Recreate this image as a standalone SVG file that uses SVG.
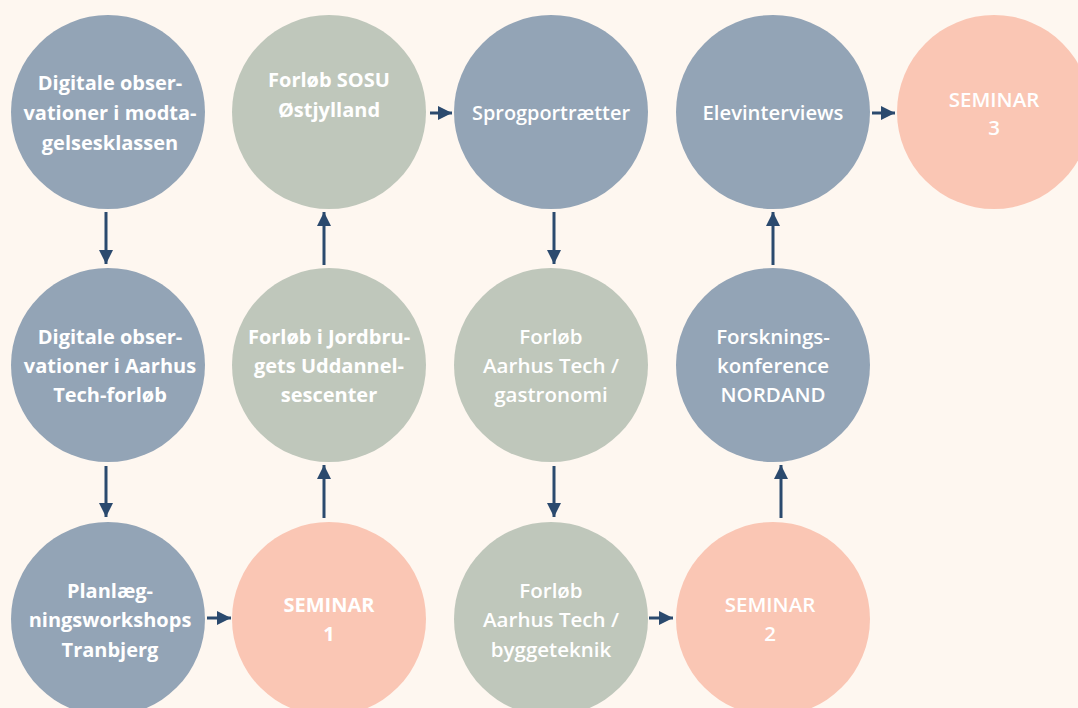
<svg xmlns="http://www.w3.org/2000/svg" width="1078" height="708" viewBox="0 0 1078 708">
<defs>
<style>
.blue{fill:#93a4b6}
.sage{fill:#bfc7bb}
.salmon{fill:#fac6b4}
.t{font-family:"Open Sans","Noto Sans",sans-serif;font-weight:700;font-size:20px;fill:#ffffff;text-anchor:middle}
.tc{font-family:"Open Sans","Noto Sans",sans-serif;font-weight:600;font-size:20.5px;fill:#ffffff;text-anchor:middle}
.conn line{stroke:#2b4a6e;stroke-width:3}
</style>
<marker id="ah" viewBox="0 0 10 10" refX="10" refY="5" markerWidth="4.8" markerHeight="4.8" markerUnits="strokeWidth" orient="auto">
<path d="M0,0 L10,5 L0,10 Z" fill="#2b4a6e"/>
</marker>
</defs>
<rect width="1078" height="708" fill="#fef7f0"/>

<g id="n1"><circle class="blue" cx="108" cy="112" r="97"/>
<text class="t" x="110" y="90">Digitale obser-</text>
<text class="t" x="110" y="120">vationer i modta-</text>
<text class="t" x="110" y="150">gelsesklassen</text></g>

<g id="n2"><circle class="blue" cx="108" cy="365" r="97"/>
<text class="t" x="110" y="344">Digitale obser-</text>
<text class="t" x="110" y="373">vationer i Aarhus</text>
<text class="t" x="110" y="402">Tech-forløb</text></g>

<g id="n3"><circle class="blue" cx="108" cy="619" r="97"/>
<text class="t" x="110" y="598">Planlæg-</text>
<text class="t" x="110" y="627">ningsworkshops</text>
<text class="t" x="110" y="657">Tranbjerg</text></g>

<g id="s1"><circle class="salmon" cx="329" cy="619" r="97"/>
<text class="t" x="329" y="612">SEMINAR</text>
<text class="t" x="329" y="641">1</text></g>

<g id="n4"><circle class="sage" cx="329" cy="365" r="97"/>
<text class="t" x="329" y="344">Forløb i Jordbru-</text>
<text class="t" x="329" y="373">gets Uddannel-</text>
<text class="t" x="329" y="402">sescenter</text></g>

<g id="n5"><circle class="sage" cx="329" cy="112" r="97"/>
<text class="t" x="329" y="87">Forløb SOSU</text>
<text class="t" x="329" y="117">Østjylland</text></g>

<g id="n6"><circle class="blue" cx="551" cy="112" r="97"/>
<text class="tc" x="551" y="120" textLength="158" lengthAdjust="spacingAndGlyphs">Sprogportrætter</text></g>

<g id="n7"><circle class="sage" cx="551" cy="365" r="97"/>
<text class="tc" x="551" y="344">Forløb</text>
<text class="tc" x="551" y="373" textLength="136" lengthAdjust="spacingAndGlyphs">Aarhus Tech /</text>
<text class="tc" x="551" y="402">gastronomi</text></g>

<g id="n8"><circle class="sage" cx="551" cy="619" r="97"/>
<text class="tc" x="551" y="598">Forløb</text>
<text class="tc" x="551" y="627" textLength="136" lengthAdjust="spacingAndGlyphs">Aarhus Tech /</text>
<text class="tc" x="551" y="657">byggeteknik</text></g>

<g id="s2"><circle class="salmon" cx="773" cy="619" r="97"/>
<text class="tc" x="770" y="612">SEMINAR</text>
<text class="tc" x="770" y="641">2</text></g>

<g id="n9"><circle class="blue" cx="773" cy="365" r="97"/>
<text class="tc" x="773" y="344">Forsknings-</text>
<text class="tc" x="773" y="373">konference</text>
<text class="tc" x="773" y="402">NORDAND</text></g>

<g id="n10"><circle class="blue" cx="773" cy="112" r="97"/>
<text class="tc" x="773" y="120" textLength="141" lengthAdjust="spacingAndGlyphs">Elevinterviews</text></g>

<g id="s3"><circle class="salmon" cx="994" cy="112" r="97"/>
<text class="tc" x="994" y="107">SEMINAR</text>
<text class="tc" x="994" y="135">3</text></g>

<g id="connectors" class="conn">
<line x1="106" y1="212" x2="106" y2="264" marker-end="url(#ah)"/>
<line x1="106" y1="466" x2="106" y2="517" marker-end="url(#ah)"/>
<line x1="207" y1="618" x2="231" y2="618" marker-end="url(#ah)"/>
<line x1="324" y1="518" x2="324" y2="465" marker-end="url(#ah)"/>
<line x1="324" y1="265" x2="324" y2="212" marker-end="url(#ah)"/>
<line x1="430" y1="113" x2="452" y2="113" marker-end="url(#ah)"/>
<line x1="554" y1="212" x2="554" y2="264" marker-end="url(#ah)"/>
<line x1="554" y1="466" x2="554" y2="517" marker-end="url(#ah)"/>
<line x1="649" y1="618" x2="673" y2="618" marker-end="url(#ah)"/>
<line x1="781" y1="518" x2="781" y2="465" marker-end="url(#ah)"/>
<line x1="773" y1="265" x2="773" y2="212" marker-end="url(#ah)"/>
<line x1="872" y1="113" x2="895" y2="113" marker-end="url(#ah)"/>
</g>
</svg>
